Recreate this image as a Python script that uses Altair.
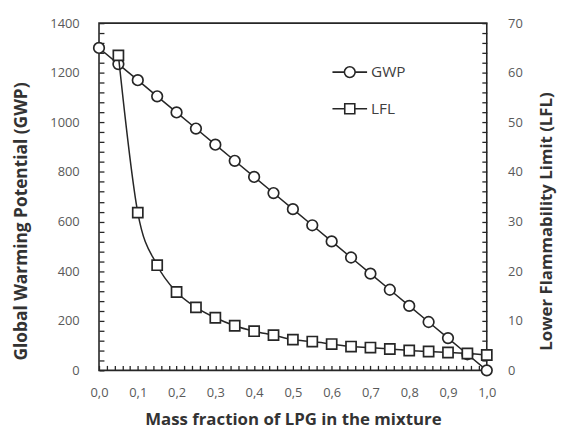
import altair as alt
import pandas as pd

# ---- data ----
x_gwp = [0.00, 0.05, 0.10, 0.15, 0.20, 0.25, 0.30, 0.35, 0.40, 0.45, 0.50,
         0.55, 0.60, 0.65, 0.70, 0.75, 0.80, 0.85, 0.90, 0.95, 1.00]
gwp = [1300, 1235, 1170, 1105, 1040, 975, 910, 845, 780, 715, 650,
       585, 520, 455, 390, 325, 260, 195, 130, 65, 0]

x_lfl = [0.05, 0.10, 0.15, 0.20, 0.25, 0.30, 0.35, 0.40, 0.45, 0.50,
         0.55, 0.60, 0.65, 0.70, 0.75, 0.80, 0.85, 0.90, 0.95, 1.00]
lfl = [63.5, 31.8, 21.2, 15.8, 12.7, 10.6, 9.0, 7.9, 7.1, 6.2,
       5.8, 5.3, 4.8, 4.6, 4.3, 4.0, 3.8, 3.6, 3.4, 3.1]

series = ["GWP", "LFL"]

df_gwp = pd.DataFrame({"x": x_gwp, "GWP": gwp})
df_lfl = pd.DataFrame({"x": x_lfl, "LFL": lfl})
df_leg = pd.DataFrame({"series": series})

INK = "#262626"
FONT = "Open Sans"

xs = alt.Scale(domain=[0, 1], nice=False, zero=False)
y1s = alt.Scale(domain=[0, 1400], nice=False)
y2s = alt.Scale(domain=[0, 70], nice=False)

x_main_axis = alt.Axis(
    values=[i / 10 for i in range(11)],
    labelExpr="replace(format(datum.value, '.1f'), '.', ',')",
    title="Mass fraction of LPG in the mixture", labelFlush=False,
    ticks=False, domain=False, grid=False, labelPadding=16,
    titleY=50, titleBaseline="middle", titleFontSize=17,
)
y_left_axis = alt.Axis(
    values=list(range(0, 1401, 200)), format="d",
    title="Global Warming Potential (GWP)", labelFlush=False,
    ticks=False, domain=False, grid=False, labelPadding=20,
    orient="left", titleX=-78, titleY=200, titleBaseline="middle",
    titleAlign="center", titleFontSize=17.5,
)
y_right_axis = alt.Axis(
    values=list(range(0, 71, 10)), format="d",
    title="Lower Flammability Limit (LFL)", labelFlush=False,
    ticks=False, domain=False, grid=False, labelPadding=21,
    orient="right", titleAngle=270, titleX=60, titleY=200,
    titleBaseline="middle", titleAlign="center", titleFontSize=17,
)

gwp_line = alt.Chart(df_gwp).mark_line(color=INK, strokeWidth=1.5).encode(
    x=alt.X("x:Q", scale=xs, axis=x_main_axis),
    y=alt.Y("GWP:Q", scale=y1s, axis=y_left_axis),
)
gwp_pts = alt.Chart(df_gwp).mark_point(
    shape="circle", size=115, filled=True, fill="white", stroke=INK,
    strokeWidth=1.7, opacity=1,
).encode(
    x=alt.X("x:Q", scale=xs, axis=None),
    y=alt.Y("GWP:Q", scale=y1s, axis=None),
)
lfl_line = alt.Chart(df_lfl).mark_line(
    color=INK, strokeWidth=1.5, interpolate="monotone"
).encode(
    x=alt.X("x:Q", scale=xs, axis=None),
    y=alt.Y("LFL:Q", scale=y2s, axis=y_right_axis),
)
lfl_pts = alt.Chart(df_lfl).mark_point(
    shape="square", size=105, filled=True, fill="white", stroke=INK,
    strokeWidth=1.7, opacity=1,
).encode(
    x=alt.X("x:Q", scale=xs, axis=None),
    y=alt.Y("LFL:Q", scale=y2s, axis=None),
)

# inward-pointing tick marks (axes shifted inside the frame)
tick_left = alt.Chart(df_gwp).mark_point(opacity=0).encode(
    x=alt.X("x:Q", scale=xs, axis=alt.Axis(
        orient="bottom", offset=-5, values=[i / 50 for i in range(51)],
        tickSize=5, tickWidth=1.3, tickColor=INK, labels=False, domain=False,
        grid=False, title=None)),
    y=alt.Y("GWP:Q", scale=y1s, axis=alt.Axis(
        orient="left", offset=-5, values=list(range(0, 1401, 40)),
        tickSize=5, tickWidth=1.3, tickColor=INK, labels=False, domain=False,
        grid=False, title=None)),
)
tick_right = alt.Chart(df_lfl).mark_point(opacity=0).encode(
    x=alt.X("x:Q", scale=xs, axis=None),
    y=alt.Y("LFL:Q", scale=y2s, axis=alt.Axis(
        orient="right", offset=-5, values=list(range(0, 71, 2)),
        tickSize=5, tickWidth=1.3, tickColor=INK, labels=False, domain=False,
        grid=False, title=None)),
)

circle_path = ("M-1,0L-0.31,0M0.31,0L1,0"
               "M-0.31,0A0.31,0.31,0,1,0,0.31,0A0.31,0.31,0,1,0,-0.31,0Z")
square_path = ("M-1,0L-0.29,0M0.29,0L1,0"
               "M-0.29,-0.29L0.29,-0.29L0.29,0.29L-0.29,0.29Z")

legend_layer = alt.Chart(df_leg).mark_point(opacity=0).encode(
    shape=alt.Shape("series:N", scale=alt.Scale(
        domain=series, range=[circle_path, square_path]),
        legend=alt.Legend(
            title=None, orient="none", legendX=235, legendY=31,
            symbolSize=1225, symbolFillColor="white", symbolStrokeColor=INK,
            symbolStrokeWidth=1.6, symbolOpacity=1, labelFontSize=15.5,
            labelColor="#404040", labelFont=FONT, rowPadding=9,
            labelOffset=3, padding=0)),
)

chart = alt.layer(
    gwp_line, gwp_pts, lfl_line, lfl_pts, tick_left, tick_right, legend_layer
).resolve_scale(
    y="independent"
).resolve_axis(
    x="independent", y="independent"
).properties(
    width=392, height=351,
    padding={"left": 5, "top": 7, "right": 4, "bottom": 2},
).configure_view(
    stroke=INK, strokeWidth=1.6
).configure_axis(
    labelFont=FONT, labelFontSize=13, labelColor="#595959",
    titleFont=FONT, titleFontSize=17, titleFontWeight="bold",
    titleColor="#333333",
)

chart.save("out.html", embed_options={"renderer": "svg", "actions": False})
